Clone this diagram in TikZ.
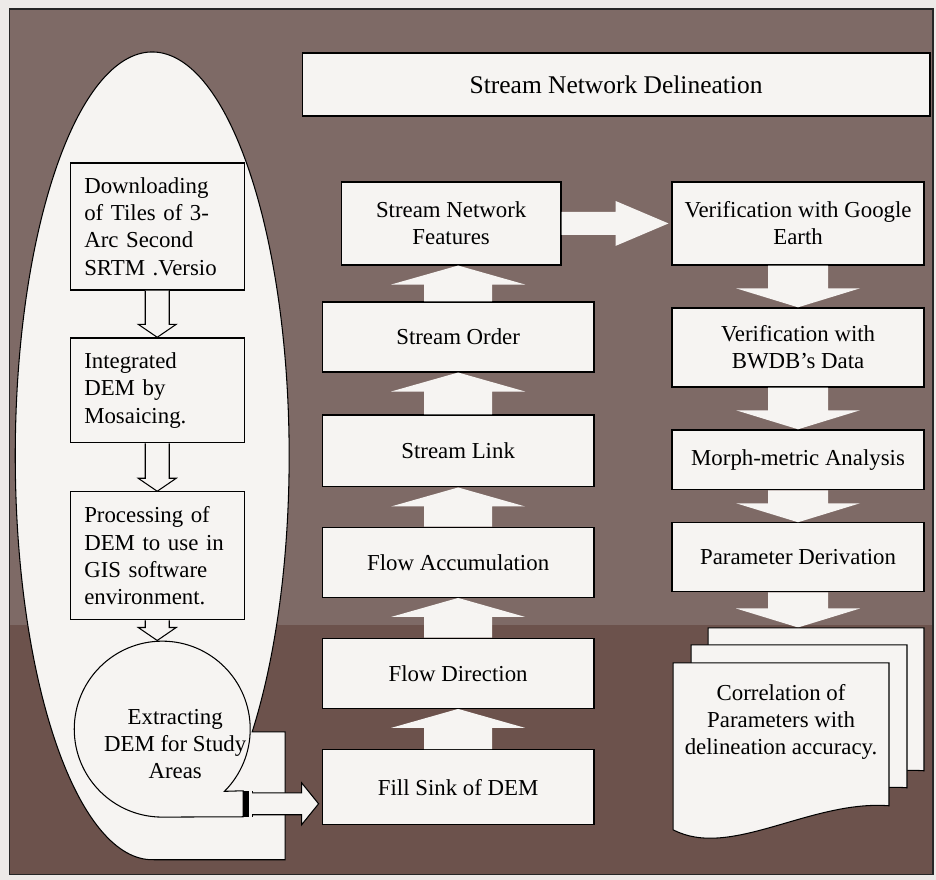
\documentclass[tikz,border=0pt]{standalone}
\usepackage{fontspec}
\setmainfont{Liberation Serif}
\usepackage{tikz}
\usetikzlibrary{calc}

\definecolor{boxfill}{HTML}{F6F4F2}
\definecolor{bgup}{HTML}{7E6A66}
\definecolor{bglow}{HTML}{6C524C}
\definecolor{outer}{HTML}{EDEAE8}

\tikzset{
  box/.style={draw=black, line width=0.7pt, fill=boxfill, minimum height=1.4cm, inner sep=2pt, font=\fontsize{13}{15.5}\selectfont},
  leftbox/.style={box, minimum width=3.48cm, text width=2.92cm, align=left},
  midbox/.style={box, minimum width=5.44cm, align=center},
  rightbox/.style={box, minimum width=5.04cm, align=center},
  blockarr/.style={fill=boxfill},
  hollowarr/.style={draw=black, line width=0.6pt, fill=boxfill},
  sheet/.style={draw=black, line width=0.6pt, fill=boxfill}
}

\newcommand{\stepup}[2]{%
  \fill[blockarr] ($(#1.north)+(-34,0)$) -- ($(#1.north |- #2.south)+(-34,19)$) -- ($(#1.north |- #2.south)+(-67,19)$) -- (#1.north |- #2.south) -- ($(#1.north |- #2.south)+(67,19)$) -- ($(#1.north |- #2.south)+(34,19)$) -- ($(#1.north)+(34,0)$) -- cycle;}
\newcommand{\stepdown}[2]{%
  \fill[blockarr] ($(#1.south)+(-30,0)$) -- ($(#1.south |- #2.north)+(-30,-19)$) -- ($(#1.south |- #2.north)+(-62,-19)$) -- (#1.south |- #2.north) -- ($(#1.south |- #2.north)+(62,-19)$) -- ($(#1.south |- #2.north)+(30,-19)$) -- ($(#1.south)+(30,0)$) -- cycle;}
\newcommand{\stepdownsmall}[2]{%
  \draw[hollowarr] ($(#1.south)+(-12,0)$) -- ($(#1.south |- #2.north)+(-12,-13)$) -- ($(#1.south |- #2.north)+(-19,-13)$) -- (#1.south |- #2.north) -- ($(#1.south |- #2.north)+(19,-13)$) -- ($(#1.south |- #2.north)+(12,-13)$) -- ($(#1.south)+(12,0)$);}

\begin{document}
\begin{tikzpicture}[x=0.02cm, y=-0.02cm]
    % page and frame
    \fill[outer] (0,0) rectangle (936,880);
    \fill[bgup] (9,9) rectangle (933,625);
    \fill[bglow] (9,625) rectangle (933,875);
    \draw[line width=0.8pt, black!85] (9,9) rectangle (933,875);

    % ellipse round the DEM steps
    \draw[line width=0.6pt, fill=boxfill] (252,732) arc[start angle=43.1, end angle=-270, x radius=137, y radius=404] -- (285,860) -- (285,732) -- cycle;

    \node[box, minimum width=12.56cm, minimum height=1.26cm, font=\fontsize{14.5}{17}\selectfont] (title) at (616,84.5) {Stream Network Delineation};

    \node[leftbox, minimum height=2.54cm] (dl) at (157,226.5) {Downloading\\ of Tiles of 3-\\ Arc Second\\ SRTM .Versio};
    \node[leftbox, minimum height=2.1cm] (integ) at (157,390.5) {Integrated\\ DEM by\\ Mosaicing.};
    \node[leftbox, minimum height=2.56cm] (proc) at (157,556) {Processing of\\ DEM to use in\\ GIS software\\ environment.};
    \node[circle, minimum size=3.52cm, inner sep=0pt] (ext) at (162,729) {};

    \stepdownsmall{dl}{integ}
    \stepdownsmall{integ}{proc}
    \stepdownsmall{proc}{ext}

    % tape shape
    \draw[line width=0.6pt, fill=boxfill] (ext.south) arc[start angle=90, end angle=405, radius=88] -- (243,791) -- (243,817) -- cycle;
    \node[font=\fontsize{13}{15.5}\selectfont, align=center] (exttxt) at (175,744) {Extracting\\ DEM for Study\\ Areas};
    \fill[black] (243,791) rectangle (249,817);
    \draw[line width=0.6pt] (252,791) -- (252,817);
    \coordinate (tail) at (252,804);

    \node[midbox, minimum width=4.4cm, minimum height=1.66cm] (snf) at (451,223.5) {Stream Network\\ Features};
    \node[midbox] (so) at (458,337) {Stream Order};
    \node[midbox, minimum height=1.44cm] (sl) at (458,451) {Stream Link};
    \node[midbox] (fa) at (458,562.5) {Flow Accumulation};
    \node[midbox] (fd) at (458,673.5) {Flow Direction};
    \node[midbox, minimum height=1.5cm] (fs) at (458,787.5) {Fill Sink of DEM};

    \stepup{fs}{fd}
    \stepup{fd}{fa}
    \stepup{fa}{sl}
    \stepup{sl}{so}
    \stepup{so}{snf}

    \draw[hollowarr] ($(tail)+(0,-11)$) -- ($(fs.west |- tail)+(-20,-11)$) -- ($(fs.west |- tail)+(-20,-21)$) -- ($(fs.west |- tail)+(-3,0)$) -- ($(fs.west |- tail)+(-20,21)$) -- ($(fs.west |- tail)+(-20,11)$) -- ($(tail)+(0,11)$);

    \node[rightbox, minimum height=1.66cm] (vg) at (798,223.5) {Verification with Google\\ Earth};
    \node[rightbox, minimum height=1.58cm] (vb) at (798,347.5) {Verification with\\ BWDB’s Data};
    \node[rightbox, minimum height=1.2cm] (mm) at (798,460) {Morph-metric Analysis};
    \node[rightbox, minimum height=1.38cm] (pd) at (798,557.5) {Parameter Derivation};
    \node[inner sep=0pt, minimum size=0pt] (docstack) at (816,628) {};

    \fill[blockarr] ($(snf.east)+(0,-11.5)$) -- ($(vg.west |- snf.east)+(-56,-11.5)$) -- ($(vg.west |- snf.east)+(-56,-22.5)$) -- ($(vg.west |- snf.east)+(-3,0)$) -- ($(vg.west |- snf.east)+(-56,22.5)$) -- ($(vg.west |- snf.east)+(-56,11.5)$) -- ($(snf.east)+(0,11.5)$) -- cycle;
    \stepdown{vg}{vb}
    \stepdown{vb}{mm}
    \stepdown{mm}{pd}
    \stepdown{pd}{docstack}

    % stacked documents
    \foreach \d in {35,18,0}
        \draw[sheet, shift={(781+\d,722-\d)}] (-108,-59) -- (108,-59) -- (108,84) .. controls (29,78) and (-51,138) .. (-108,108) -- cycle;
    \node[font=\fontsize{13}{15.5}\selectfont, align=center] (corr) at (781,722) {Correlation of\\ Parameters with\\ delineation accuracy.};
\end{tikzpicture}
\end{document}
